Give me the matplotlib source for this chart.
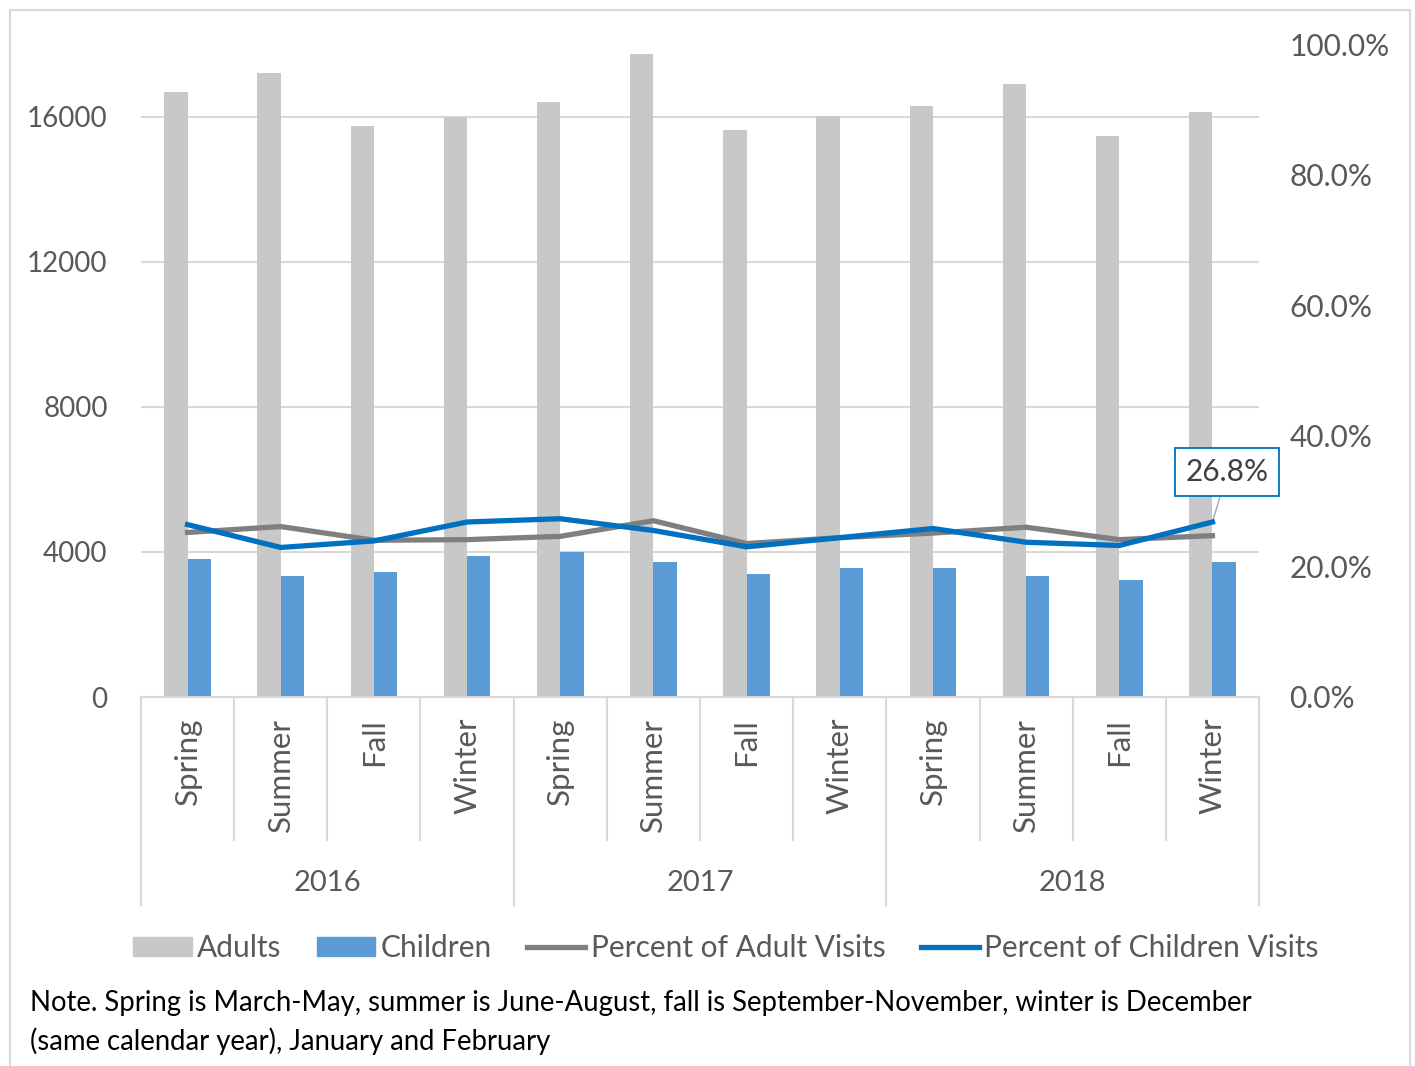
import matplotlib
matplotlib.use('Agg')
import matplotlib.pyplot as plt
from matplotlib.patches import Rectangle, Patch
from matplotlib.lines import Line2D

plt.rcParams['font.family'] = ['Lato', 'DejaVu Sans']

seasons = ["Spring", "Summer", "Fall", "Winter"] * 3
years = ["2016", "2017", "2018"]
adults = [16680, 17190, 15750, 15990, 16400, 17720, 15640, 16010, 16290, 16910, 15470, 16130]
children = [3810, 3330, 3440, 3880, 3990, 3720, 3390, 3555, 3555, 3335, 3225, 3710]
pct_adults = [25.2, 26.1, 24.0, 24.1, 24.6, 27.0, 23.5, 24.4, 25.1, 26.0, 24.1, 24.7]
pct_children = [26.4, 22.9, 23.9, 26.8, 27.3, 25.5, 23.0, 24.4, 25.8, 23.7, 23.2, 26.8]

W, H = 1415, 1066
grey_txt = '#595959'
grid_c = '#d9d9d9'

fig = plt.figure(figsize=(W / 100, H / 100), dpi=100)
# outer chart frame
fig.patches.append(Rectangle((10 / W, -0.01), 1400 / W, 1 - 10 / H + 0.01,
                             transform=fig.transFigure, fill=False,
                             edgecolor=grid_c, linewidth=1.5))

ax = fig.add_axes([141 / W, 1 - 697 / H, (1259 - 141) / W, (697 - 44) / H])
x = list(range(len(seasons)))
bw = 0.25
ax.bar([i - bw / 2 for i in x], adults, width=bw, color='#c8c8c8', zorder=2)
ax.bar([i + bw / 2 for i in x], children, width=bw, color='#5b9bd5', zorder=2)
ax.set_xlim(-0.5, len(x) - 0.5)
ax.set_ylim(0, 18000)
ax.set_yticks([0, 4000, 8000, 12000, 16000])
ax.yaxis.grid(True, color=grid_c, linewidth=1.5, zorder=0)
ax.set_axisbelow(True)
ax.tick_params(axis='y', length=0, labelsize=20, labelcolor=grey_txt, pad=24)
ax.set_xticks([])
for s in ['top', 'right', 'left']:
    ax.spines[s].set_visible(False)
ax.spines['bottom'].set_color(grid_c)
ax.spines['bottom'].set_linewidth(1.5)

ax2 = ax.twinx()
ax2.plot(x, pct_adults, color='#7f7f7f', linewidth=3.8, zorder=3)
ax2.plot(x, pct_children, color='#0070c0', linewidth=3.8, zorder=4)
ax2.set_ylim(0, 100)
ax2.set_yticks([0, 20, 40, 60, 80, 100])
ax2.set_yticklabels([f"{v:.1f}%" for v in [0, 20, 40, 60, 80, 100]])
ax2.tick_params(axis='y', length=0, labelsize=21.5, labelcolor=grey_txt, pad=22)
for s in ['top', 'right', 'left', 'bottom']:
    ax2.spines[s].set_visible(False)

# data label for last point
ax2.annotate(f"{pct_children[-1]:.1f}%", xy=(x[-1], pct_children[-1]),
             xytext=(15, 50), textcoords='offset pixels', ha='center', va='center',
             fontsize=21.5, color='#404040',
             bbox=dict(boxstyle='square,pad=0.35', fc='white', ec='#0070c0', lw=1.3),
             arrowprops=dict(arrowstyle='-', color='#a6a6a6', lw=1, shrinkA=0, shrinkB=0))

# multi-level category axis
tr = ax.get_xaxis_transform()
for i, s in enumerate(seasons):
    ax.text(i, -0.032, s, transform=tr, rotation=90, ha='center', va='top',
            fontsize=22.5, color=grey_txt)
for i in range(len(x) + 1):
    bottom = -0.3185 if i % 4 == 0 else -0.219
    ax.plot([i - 0.5, i - 0.5], [0, bottom], transform=tr, color=grid_c,
            linewidth=1.5, clip_on=False)
for j, yr in enumerate(years):
    ax.text(j * 4 + 1.5, -0.285, yr, transform=tr, ha='center', va='center',
            fontsize=21, color=grey_txt)

handles = [Patch(color='#c8c8c8', label='Adults'),
           Patch(color='#5b9bd5', label='Children'),
           Line2D([], [], color='#7f7f7f', linewidth=3.8, label='Percent of Adult Visits'),
           Line2D([], [], color='#0070c0', linewidth=3.8, label='Percent of Children Visits')]
leg = fig.legend(handles=handles, loc='center', bbox_to_anchor=(726 / W, 1 - 948 / H),
                 ncol=4, frameon=False, fontsize=21.5, handlelength=1.95,
                 handleheight=0.65, handletextpad=0.17, columnspacing=1.2)
for t in leg.get_texts():
    t.set_color(grey_txt)

fig.text(30 / W, 1 - 1003 / H,
         "Note. Spring is March-May, summer is June-August, fall is September-November, winter is December",
         fontsize=19.8, color='black', va='center')
fig.text(30 / W, 1 - 1041 / H, "(same calendar year), January and February",
         fontsize=19.8, color='black', va='center')

fig.savefig('out.png', dpi=100)
